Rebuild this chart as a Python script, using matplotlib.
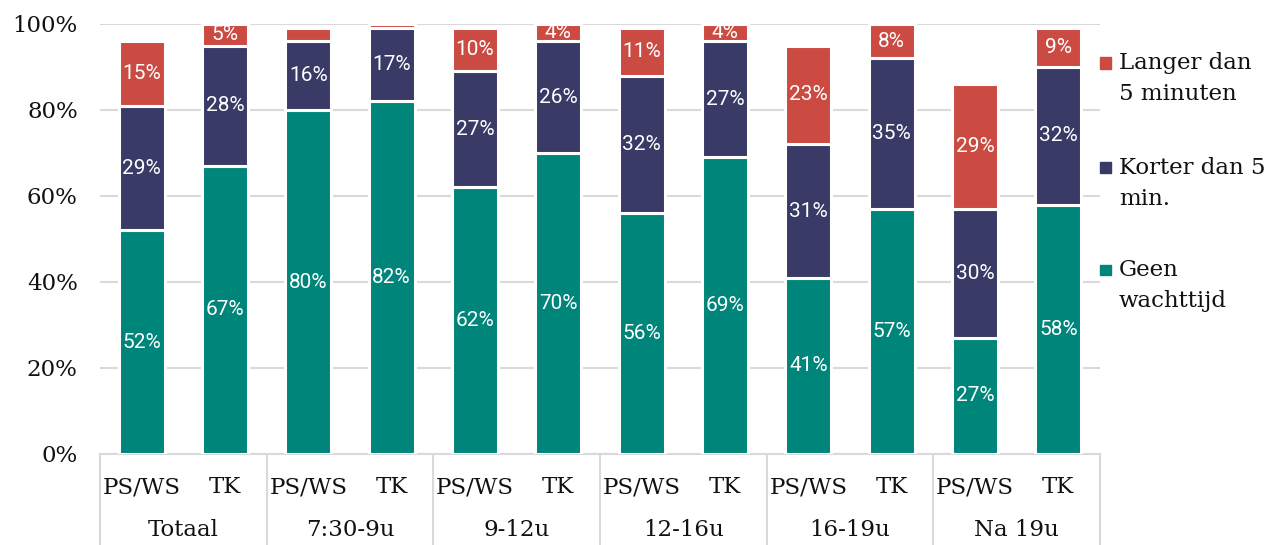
import matplotlib
matplotlib.use("Agg")
import matplotlib.pyplot as plt
from matplotlib.patches import Rectangle
import numpy as np

groups = ["Totaal", "7:30-9u", "9-12u", "12-16u", "16-19u", "Na 19u"]
subs = ["PS/WS", "TK"]
geen = [52, 67, 80, 82, 62, 70, 56, 69, 41, 57, 27, 58]
korter = [29, 28, 16, 17, 27, 26, 32, 27, 31, 35, 30, 32]
langer = [15, 5, 3, 1, 10, 4, 11, 4, 23, 8, 29, 9]
series_names = ["Geen\nwachttijd", "Korter dan 5\nmin.", "Langer dan\n5 minuten"]
colors = ["#00857A", "#393A66", "#CB4B43"]
yticks = [0, 20, 40, 60, 80, 100]

W, H = 1267, 545
fig = plt.figure(figsize=(W / 100, H / 100), dpi=100)
ax = fig.add_axes([100 / W, 1 - 454 / H, 1000 / W, 430 / H])

n = len(groups) * len(subs)
x = np.arange(n)
bottom = np.zeros(n)
for vals, col in zip([geen, korter, langer], colors):
    v = np.array(vals, dtype=float)
    ax.bar(x, v, bottom=bottom, width=0.55, color=col, edgecolor="white", linewidth=2.2, zorder=3)
    for xi, b, vi in zip(x, bottom, v):
        if vi >= 4:
            ax.text(xi, b + vi / 2, f"{int(vi)}%", ha="center", va="center", color="white",
                    fontsize=15, family=["Roboto", "DejaVu Sans"], zorder=4)
    bottom += v

ax.set_xlim(-0.5, n - 0.5)
ax.set_ylim(0, 100)
ax.set_yticks(yticks)
ax.set_yticklabels([f"{t}%" for t in yticks], family="DejaVu Serif", fontsize=16.5, color="#111111")
ax.tick_params(axis="y", length=0, pad=16)
ax.set_xticks([])
for s in ["top", "right", "left"]:
    ax.spines[s].set_visible(False)
ax.spines["bottom"].set_color("#D9D9D9")
ax.spines["bottom"].set_linewidth(1.5)
ax.set_axisbelow(True)
ax.grid(axis="y", color="#D9D9D9", linewidth=1.5, zorder=0)

trans = ax.get_xaxis_transform()
bottom_y = -(H - 454) / 430
for k in range(len(groups) + 1):
    xv = -0.5 + 2 * k
    ax.plot([xv, xv], [0, bottom_y], transform=trans, color="#D9D9D9", lw=1.5, clip_on=False)
for i in range(n):
    ax.text(x[i], -(487 - 454) / 430, subs[i % 2], transform=trans, ha="center", va="center",
            family="DejaVu Serif", fontsize=16.5, color="#111111")
for g, name in enumerate(groups):
    ax.text(2 * g + 0.5, -(530 - 454) / 430, name, transform=trans, ha="center", va="center",
            family="DejaVu Serif", fontsize=16.5, color="#111111")

# legend (manual, marker aligned to first line)
leg_rows = [(2, 63), (1, 168), (0, 270)]
for idx, ypx in leg_rows:
    fig.patches.append(Rectangle(((1105 - 5.5) / W, 1 - (ypx + 5.5) / H), 11 / W, 11 / H,
                                 transform=fig.transFigure, color=colors[idx]))
    for j, line in enumerate(series_names[idx].split("\n")):
        fig.text(1119 / W, 1 - (ypx + 31 * j) / H, line, ha="left", va="center",
                 family="DejaVu Serif", fontsize=16.5, color="#111111")

fig.savefig("out.png", dpi=100)
